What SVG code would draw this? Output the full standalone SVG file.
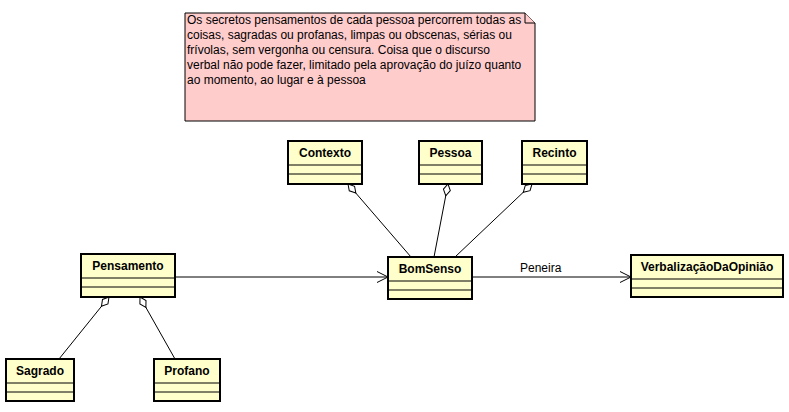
<svg xmlns="http://www.w3.org/2000/svg" width="789" height="412" viewBox="0 0 789 412">
<defs>
<style>
.cls rect{fill:#FFFFCC;stroke:#000;stroke-width:2}
.cls line{stroke:#000;stroke-width:1}
.cls text{font-family:"Liberation Sans",Arial,sans-serif;font-size:12px;font-weight:bold;text-anchor:middle;fill:#000}
.note path{fill:#FFCCCC;stroke:#000;stroke-width:1}
.note text{font-family:"Liberation Sans",Arial,sans-serif;font-size:12px;fill:#000}
.conn line{stroke:#000;stroke-width:1;fill:none}
.lbl{font-family:"Liberation Sans",Arial,sans-serif;font-size:12px;fill:#000}
</style>
<marker id="diamond" markerUnits="userSpaceOnUse" markerWidth="14" markerHeight="10" viewBox="-1 -5 14 10" refX="0" refY="0" orient="auto">
<path d="M0,0 L6,-3.5 L12,0 L6,3.5 Z" fill="#fff" stroke="#000" stroke-width="1"/>
</marker>
<marker id="arrow" markerUnits="userSpaceOnUse" markerWidth="14" markerHeight="14" viewBox="-12 -7 14 14" refX="0" refY="0" orient="auto">
<path d="M-11,-5.5 L0,0 L-11,5.5" fill="none" stroke="#000" stroke-width="1"/>
</marker>
</defs>
<rect width="789" height="412" fill="#fff"/>

<g id="note" class="note">
<path d="M185,13 H525 L535,23 V121 H185 Z"/>
<path d="M525,13 V23 H535" fill="none"/>
<text x="187" y="24">Os secretos pensamentos de cada pessoa percorrem todas as</text>
<text x="187" y="39">coisas, sagradas ou profanas, limpas ou obscenas, sérias ou</text>
<text x="187" y="54">frívolas, sem vergonha ou censura. Coisa que o discurso</text>
<text x="187" y="69">verbal não pode fazer, limitado pela aprovação do juízo quanto</text>
<text x="187" y="84">ao momento, ao lugar e à pessoa</text>
</g>

<g id="connectors" class="conn">
<line x1="348" y1="184" x2="411" y2="257" marker-start="url(#diamond)"/>
<line x1="448" y1="184" x2="434" y2="257" marker-start="url(#diamond)"/>
<line x1="532" y1="184" x2="455" y2="257" marker-start="url(#diamond)"/>
<line x1="109" y1="297" x2="59" y2="359" marker-start="url(#diamond)"/>
<line x1="140" y1="297" x2="175" y2="359" marker-start="url(#diamond)"/>
<line x1="175" y1="277" x2="388" y2="277" marker-end="url(#arrow)"/>
<line x1="472" y1="277" x2="631" y2="277" marker-end="url(#arrow)"/>
<text class="lbl" x="520" y="272">Peneira</text>
</g>

<g id="Contexto" class="cls">
<rect x="288" y="141" width="74" height="43"/>
<line x1="288" y1="165" x2="362" y2="165"/>
<line x1="288" y1="174" x2="362" y2="174"/>
<text x="325" y="157">Contexto</text>
</g>

<g id="Pessoa" class="cls">
<rect x="419" y="141" width="63" height="43"/>
<line x1="419" y1="165" x2="482" y2="165"/>
<line x1="419" y1="174" x2="482" y2="174"/>
<text x="450.5" y="157">Pessoa</text>
</g>

<g id="Recinto" class="cls">
<rect x="522" y="141" width="65" height="43"/>
<line x1="522" y1="165" x2="587" y2="165"/>
<line x1="522" y1="174" x2="587" y2="174"/>
<text x="554.5" y="157">Recinto</text>
</g>

<g id="BomSenso" class="cls">
<rect x="388" y="257" width="84" height="42"/>
<line x1="388" y1="281" x2="472" y2="281"/>
<line x1="388" y1="290" x2="472" y2="290"/>
<text x="430" y="273">BomSenso</text>
</g>

<g id="Pensamento" class="cls">
<rect x="81" y="254" width="94" height="43"/>
<line x1="81" y1="278" x2="175" y2="278"/>
<line x1="81" y1="287" x2="175" y2="287"/>
<text x="128" y="270">Pensamento</text>
</g>

<g id="VerbalizacaoDaOpiniao" class="cls">
<rect x="631" y="255" width="152" height="42"/>
<line x1="631" y1="279" x2="783" y2="279"/>
<line x1="631" y1="288" x2="783" y2="288"/>
<text x="707" y="271">VerbalizaçãoDaOpinião</text>
</g>

<g id="Sagrado" class="cls">
<rect x="6" y="359" width="68" height="42"/>
<line x1="6" y1="383" x2="74" y2="383"/>
<line x1="6" y1="392" x2="74" y2="392"/>
<text x="40" y="375">Sagrado</text>
</g>

<g id="Profano" class="cls">
<rect x="154" y="359" width="66" height="42"/>
<line x1="154" y1="383" x2="220" y2="383"/>
<line x1="154" y1="392" x2="220" y2="392"/>
<text x="187" y="375">Profano</text>
</g>
</svg>
